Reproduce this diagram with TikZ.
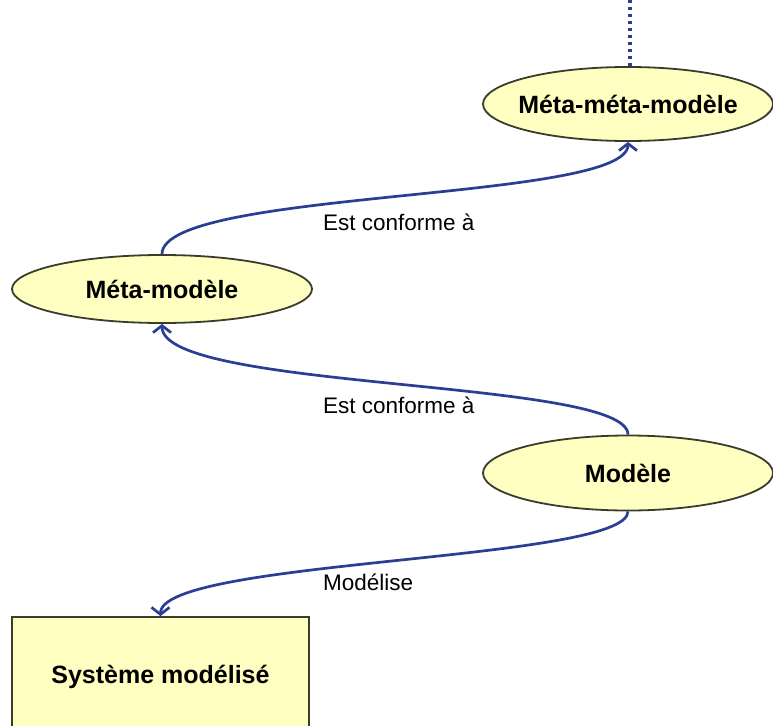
\documentclass[tikz,border=0pt]{standalone}
\usepackage{fontspec}
\setmainfont{Liberation Sans}
\usetikzlibrary{shapes.geometric,arrows.meta}
\definecolor{linkblue}{RGB}{44,62,148}
\definecolor{paleyellow}{RGB}{255,255,194}
\definecolor{edgegray}{RGB}{60,60,45}
\tikzset{
  level/.style={ellipse, draw=edgegray, line width=1.8pt, fill=paleyellow,
    inner sep=0pt, font=\bfseries\fontsize{25}{30}\selectfont},
  sysbox/.style={rectangle, draw=edgegray, line width=1.8pt, fill=paleyellow,
    inner sep=0pt, minimum width=297pt, minimum height=120pt,
    font=\bfseries\fontsize{25}{30}\selectfont},
  link/.style={draw=linkblue, line width=2.7pt,
    -{Straight Barb[length=7pt,width=18pt,line width=2.7pt]}},
  linklabel/.style={anchor=west, inner sep=0pt, font=\fontsize{22.5}{27}\selectfont},
}
\begin{document}
\begin{tikzpicture}[x=1pt,y=-1pt]
  \clip (0,0) rectangle (773,725);
  \fill[white] (0,0) rectangle (773,725);

  % levels of the modelling stack
  \node[level, inner xsep=-12pt, minimum width=290pt, minimum height=74pt] (mmm) at (628,104) {Méta-méta-modèle};
  \node[level, minimum width=300pt, minimum height=68pt] (mm) at (162,289) {Méta-modèle};
  \node[level, minimum width=290pt, minimum height=75pt] (m) at (628,473) {Modèle};
  \node[sysbox] (sys) at (160.5,677) {Système modélisé};

  % open-ended top of the stack
  \coordinate (top) at (630,0);
  \draw[linkblue, line width=3.2pt, dash pattern=on 3pt off 4pt] (top) -- (mmm.north -| top);

  % relations
  \draw[link] (mm.north) .. controls +(0,-65) and +(0,60) .. (mmm.south);
  \draw[link] (m.north) .. controls +(0,-56) and +(0,67) .. (mm.south);
  \draw[link] (m.south) .. controls +(0,50) and +(0,-57) .. (sys.north);

  \node[linklabel] (l1) at (323,222) {Est conforme à};
  \node[linklabel] (l2) at (323,405) {Est conforme à};
  \node[linklabel] (l3) at (323,582) {Modélise};
\end{tikzpicture}
\end{document}
